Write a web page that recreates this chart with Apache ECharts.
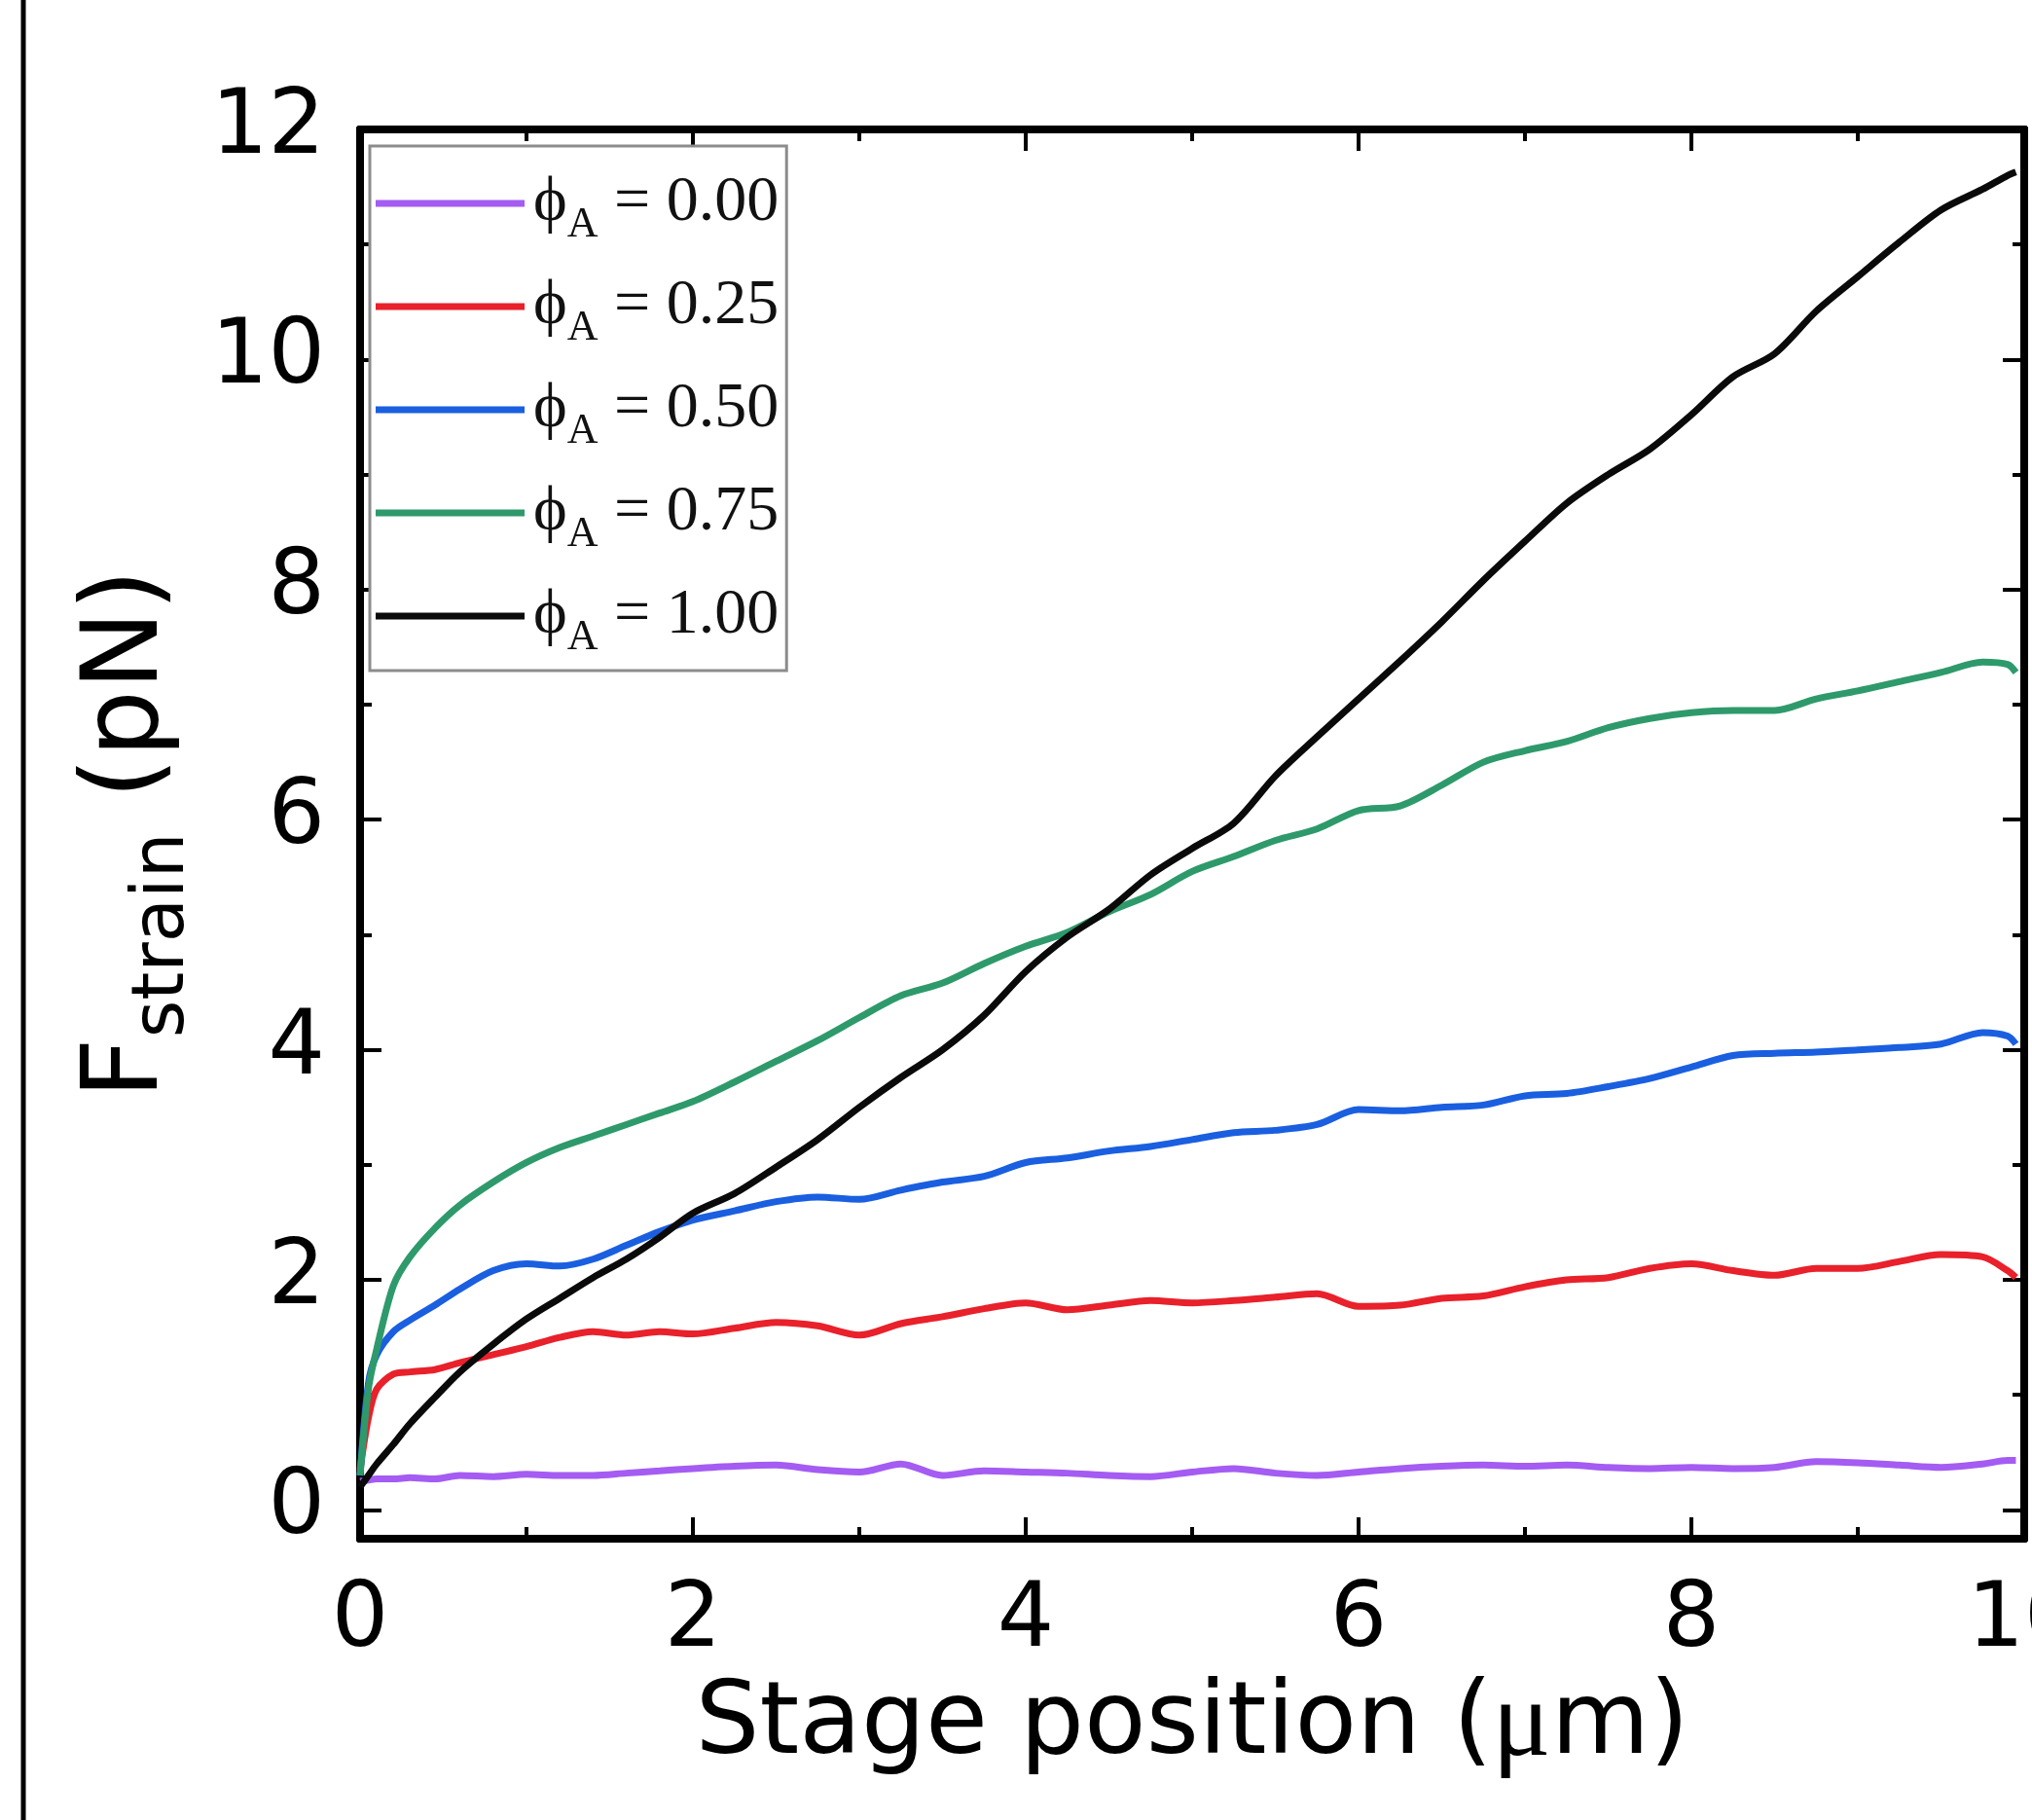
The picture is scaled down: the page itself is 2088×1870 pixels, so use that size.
<!DOCTYPE html>
<html>
<head>
<meta charset="utf-8">
<title>F_strain vs stage position</title>
<script src="https://cdn.jsdelivr.net/npm/echarts@6/dist/echarts.min.js"></script>
<style>
  html, body { margin: 0; padding: 0; background: #fff; }
  #main { width: 2088px; height: 1870px; }
</style>
</head>
<body>
<div id="main"></div>
<script>
// stage position samples (um), shared by every curve
var stagePos = [0, 0.05, 0.1, 0.2, 0.3, 0.45, 0.6, 0.8, 1.0, 1.2, 1.4, 1.6, 1.8, 2.0,
  2.25, 2.5, 2.75, 3.0, 3.25, 3.5, 3.75, 4.0, 4.25, 4.5, 4.75, 5.0, 5.25, 5.5, 5.75,
  6.0, 6.25, 6.5, 6.75, 7.0, 7.25, 7.5, 7.75, 8.0, 8.25, 8.5, 8.75, 9.0, 9.25, 9.5,
  9.75, 9.9, 9.95];

// F_strain (pN)
var phi000 = [0.25, 0.26, 0.27, 0.27, 0.28, 0.27, 0.30, 0.29, 0.31, 0.30, 0.30, 0.32, 0.34, 0.36,
  0.38, 0.39, 0.35, 0.33, 0.40, 0.30, 0.34, 0.33, 0.32, 0.30, 0.29, 0.33, 0.36, 0.32, 0.30,
  0.33, 0.36, 0.38, 0.39, 0.38, 0.39, 0.37, 0.36, 0.37, 0.36, 0.37, 0.42, 0.41, 0.39, 0.37,
  0.40, 0.43, 0.43];
var phi025 = [0.35, 0.80, 1.05, 1.18, 1.20, 1.22, 1.28, 1.35, 1.42, 1.50, 1.55, 1.52, 1.55, 1.53,
  1.58, 1.63, 1.60, 1.52, 1.62, 1.68, 1.75, 1.80, 1.74, 1.78, 1.82, 1.80, 1.82, 1.85, 1.88,
  1.77, 1.78, 1.84, 1.86, 1.94, 2.00, 2.02, 2.10, 2.14, 2.08, 2.04, 2.10, 2.10, 2.16, 2.22,
  2.20, 2.08, 2.02];
var phi050 = [0.30, 1.10, 1.35, 1.55, 1.65, 1.78, 1.92, 2.08, 2.14, 2.12, 2.18, 2.30, 2.42, 2.52,
  2.60, 2.68, 2.72, 2.70, 2.78, 2.85, 2.90, 3.02, 3.06, 3.12, 3.16, 3.22, 3.28, 3.30, 3.35,
  3.48, 3.47, 3.50, 3.52, 3.60, 3.62, 3.68, 3.75, 3.85, 3.95, 3.97, 3.98, 4.00, 4.02, 4.05,
  4.15, 4.12, 4.05];
var phi075 = [0.30, 1.05, 1.40, 1.95, 2.20, 2.45, 2.65, 2.85, 3.02, 3.15, 3.25, 3.35, 3.45, 3.55,
  3.72, 3.90, 4.08, 4.28, 4.47, 4.58, 4.75, 4.90, 5.02, 5.20, 5.35, 5.55, 5.68, 5.82, 5.92,
  6.08, 6.12, 6.30, 6.50, 6.60, 6.68, 6.80, 6.88, 6.93, 6.95, 6.95, 7.05, 7.12, 7.20, 7.28,
  7.37, 7.35, 7.28];
var phi100 = [0.20, 0.30, 0.40, 0.57, 0.75, 0.98, 1.20, 1.44, 1.66, 1.84, 2.02, 2.18, 2.37, 2.58,
  2.75, 2.98, 3.22, 3.50, 3.76, 4.00, 4.30, 4.68, 4.98, 5.22, 5.52, 5.75, 5.97, 6.38, 6.72,
  7.05, 7.38, 7.72, 8.08, 8.42, 8.75, 9.00, 9.22, 9.52, 9.85, 10.05, 10.42, 10.72, 11.02, 11.30,
  11.48, 11.60, 11.63];

var phiLabels = ['0.00', '0.25', '0.50', '0.75', '1.00'];
var curves = [phi000, phi025, phi050, phi075, phi100];
var colors = ['#a45cf2', '#e8212b', '#1a5fe0', '#2e9a6b', '#0a0a0a'];

var xMajor = [0, 2, 4, 6, 8, 10];
var xMinor = [1, 3, 5, 7, 9];
var yMajor = [0, 2, 4, 6, 8, 10, 12];
var yMinor = [1, 3, 5, 7, 9, 11];

var sans = '"DejaVu Sans", sans-serif';
var serif = '"Liberation Serif", "Times New Roman", serif';

function pairs(ys) {
  var out = [];
  for (var i = 0; i < stagePos.length; i++) out.push([stagePos[i], ys[i]]);
  return out;
}

function xAx(pos, ticks, len, withLabel) {
  return {
    type: 'value', position: pos, min: 0, max: 10,
    axisLine: { show: true, onZero: false, lineStyle: { color: '#000', width: 8 } },
    axisTick: { show: true, inside: true, length: len, customValues: ticks,
      lineStyle: { color: '#000', width: 4 } },
    axisLabel: withLabel ? { show: true, customValues: ticks, fontFamily: sans,
      fontSize: 92, color: '#000', margin: 40 } : { show: false },
    splitLine: { show: false }
  };
}
function yAx(pos, ticks, len, withLabel) {
  return {
    type: 'value', position: pos, min: -0.25, max: 12,
    axisLine: { show: true, onZero: false, lineStyle: { color: '#000', width: 8 } },
    axisTick: { show: true, inside: true, length: len, customValues: ticks,
      lineStyle: { color: '#000', width: 4 } },
    axisLabel: withLabel ? { show: true, customValues: ticks, fontFamily: sans,
      fontSize: 92, color: '#000', margin: 36 } : { show: false },
    splitLine: { show: false }
  };
}

var chart = echarts.init(document.getElementById('main'));

var xBottom = xAx('bottom', xMajor, 22, true);
xBottom.name = '{t|Stage position (}{mu|\u03bc}{t|m)}';
xBottom.nameLocation = 'middle';
xBottom.nameGap = 102;
xBottom.nameTextStyle = {
  rich: {
    t: { fontFamily: sans, fontSize: 104, color: '#000' },
    mu: { fontFamily: serif, fontSize: 112, color: '#000' }
  }
};

var series = curves.map(function (ys, i) {
  return {
    name: phiLabels[i],
    type: 'line',
    xAxisIndex: 0,
    yAxisIndex: 0,
    data: pairs(ys),
    showSymbol: false,
    symbol: 'none',
    smooth: 0.3,
    lineStyle: { color: colors[i], width: 7 },
    itemStyle: { color: colors[i] },
    z: 3 + i
  };
});

chart.setOption({
  animation: false,
  backgroundColor: '#fff',
  grid: { left: 370, right: 8, top: 133, bottom: 289, outerBoundsMode: 'none', containLabel: false },
  xAxis: [
    xBottom,
    xAx('bottom', xMinor, 12, false),
    xAx('top', xMajor, 22, false),
    xAx('top', xMinor, 12, false)
  ],
  yAxis: [
    yAx('left', yMajor, 22, true),
    yAx('left', yMinor, 12, false),
    yAx('right', yMajor, 22, false),
    yAx('right', yMinor, 12, false)
  ],
  legend: {
    orient: 'vertical',
    left: 380,
    top: 150,
    padding: [15, 8, 12, 6],
    itemGap: 18,
    itemWidth: 153,
    itemHeight: 7,
    icon: 'rect',
    borderColor: '#8c8c8c',
    borderWidth: 3,
    backgroundColor: '#fff',
    formatter: function (name) {
      return '{phi|\u03d5}{sub|A}{eq| = ' + name + '}';
    },
    textStyle: {
      rich: {
        phi: { fontFamily: serif, fontSize: 66, color: '#111', lineHeight: 90, padding: [0, 0, 0, 4] },
        sub: { fontFamily: serif, fontSize: 44, color: '#111', lineHeight: 44, padding: [44, 0, 0, 0] },
        eq: { fontFamily: serif, fontSize: 66, color: '#111', lineHeight: 90 }
      }
    },
    data: phiLabels
  },
  graphic: [
    {
      type: 'line',
      shape: { x1: 24, y1: 0, x2: 24, y2: 1870 },
      style: { stroke: '#000', lineWidth: 5 }
    },
    {
      type: 'text',
      x: 133, y: 857,
      rotation: Math.PI / 2,
      style: {
        text: '{f|F}{s|strain}{f| (pN)}',
        align: 'center',
        verticalAlign: 'middle',
        rich: {
          f: { fontFamily: sans, fontSize: 109, fill: '#000', lineHeight: 114 },
          s: { fontFamily: sans, fontSize: 74, fill: '#000', padding: [72, 0, 0, 0] }
        }
      }
    }
  ],
  series: series
});
</script>
</body>
</html>
